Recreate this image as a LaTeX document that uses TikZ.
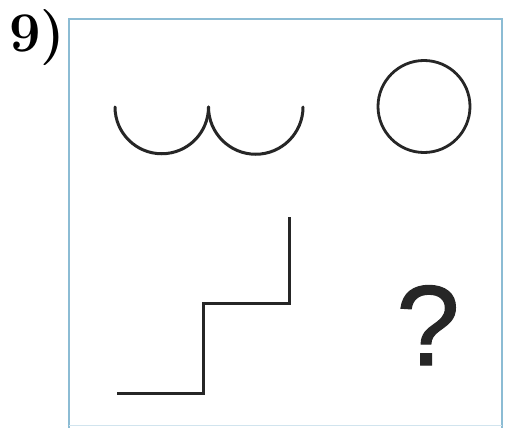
\documentclass[tikz,border=0pt]{standalone}
\usepackage{fontspec}
\newfontfamily\qfont[FakeBold=1]{Liberation Sans}
\definecolor{framecol}{RGB}{140,188,212}
\definecolor{ink}{RGB}{38,38,38}
\begin{document}
\begin{tikzpicture}[x=1pt,y=-1pt,
  figline/.style={draw=ink,line width=3pt,line cap=round,line join=miter},
  framel/.style={draw=framecol,line width=1.8pt}]
\useasboundingbox (0,0) rectangle (509,428);
\fill[white] (0,0) rectangle (509,428);
% frame
\coordinate (fbl) at (69,428);
\coordinate (ftl) at (69,19);
\coordinate (ftr) at (502,19);
\coordinate (fbr) at (502,428);
\draw[framel] (fbl) -- (ftl) -- (ftr) -- (fbr);
\draw[draw=framecol!40,line width=1pt] (69,425) -- (502,425);
% label
\node[anchor=base west,inner sep=0pt,font=\fontsize{56}{60}\selectfont\bfseries] (lbl) at (9,52) {9)};
% arcs
\coordinate (a1) at (115,107);
\coordinate (a2) at (208.5,107);
\draw[figline] (a1) arc[start angle=180,end angle=0,radius=46.75];
\draw[figline] (a2) arc[start angle=180,end angle=0,radius=47.25];
% circle
\node[draw=ink,line width=2.8pt,circle,minimum size=92pt,inner sep=0pt] (circ) at (424,106.5) {};
% staircase
\coordinate (s1) at (117,393);
\coordinate (s2) at (203,393);
\coordinate (s3) at (203,303);
\coordinate (s4) at (289.5,303);
\coordinate (s5) at (289.5,217);
\draw[figline,line cap=butt] (s1) -- (s2) -- (s3) -- (s4) -- (s5);
% question mark
\node[anchor=base,inner sep=0pt,text=ink,font=\qfont\fontsize{114}{120}\selectfont] (q) at (428,365) {?};
\end{tikzpicture}
\end{document}
